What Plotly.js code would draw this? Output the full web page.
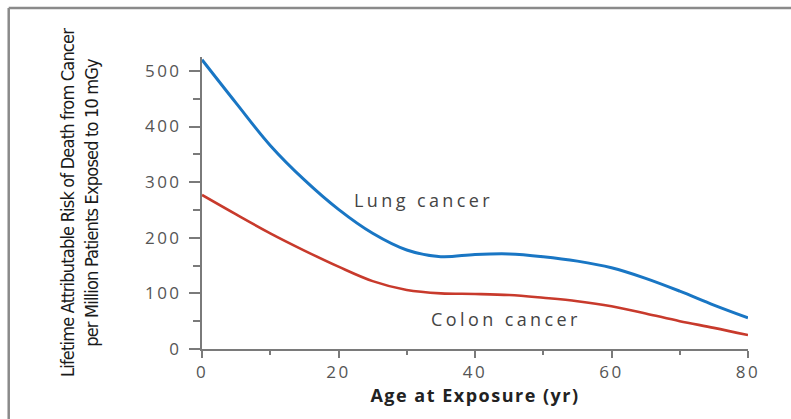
<!DOCTYPE html>
<html>
<head>
<meta charset="utf-8">
<script src="https://cdn.plot.ly/plotly-3.0.1.min.js"></script>
<style>
  html, body { margin: 0; padding: 0; background: #fff; }
  #chart { width: 791px; height: 419px; }
  .xtick text, .ytick text { letter-spacing: 2.5px; font-variant-numeric: oldstyle-nums; }
  .annotation-text { letter-spacing: 3.4px; }
  .xtitle { letter-spacing: 1.5px; }
  .ytitle { letter-spacing: -0.8px; }
</style>
</head>
<body>
<div id="chart"></div>
<script>
// Age at exposure (years)
const ages = [0, 5, 10, 15, 20, 25, 30, 35, 40, 45, 50, 55, 60, 65, 70, 75, 80];
// Lifetime attributable risk of death per million patients exposed to 10 mGy
const lungCancer  = [520, 442, 366, 304, 251, 208, 178, 166, 170, 171, 166, 158, 146, 127, 104, 79, 56];
const colonCancer = [277, 242, 208, 177, 148, 122, 106, 100, 99, 97, 92, 86, 77, 64, 50, 38, 25];

const seriesNames = ["Lung cancer", "Colon cancer"];
const labelPos = { lung: [32.5, 268], colon: [44.5, 54] };

const xTicks = [0, 20, 40, 60, 80];
const yTicks = [0, 100, 200, 300, 400, 500];

const axisGray = "#7a7a7a";
const tickFont = { family: "Open Sans, DejaVu Sans, sans-serif", size: 17, color: "#555" };

const traces = [
  { x: ages, y: lungCancer, name: seriesNames[0], type: "scatter", mode: "lines",
    line: { color: "#1976c4", width: 3, shape: "spline", smoothing: 1 }, cliponaxis: false },
  { x: ages, y: colonCancer, name: seriesNames[1], type: "scatter", mode: "lines",
    line: { color: "#c83a2c", width: 2.6, shape: "spline", smoothing: 1 }, cliponaxis: false }
];

const layout = {
  width: 791, height: 419,
  margin: { l: 202, r: 43, t: 57, b: 70 },
  paper_bgcolor: "#ffffff", plot_bgcolor: "#ffffff",
  showlegend: false,
  font: { family: "Open Sans, sans-serif", color: "#444" },
  xaxis: {
    range: [0, 80], showgrid: false, zeroline: false,
    showline: true, linecolor: axisGray, linewidth: 2,
    ticks: "outside", ticklen: 7, tickwidth: 2, tickcolor: axisGray,
    tickvals: xTicks, ticktext: xTicks.map(String),
    tickfont: tickFont,
    minor: { dtick: 10, ticks: "outside", ticklen: 4, tickwidth: 2, tickcolor: axisGray, showgrid: false },
    title: { text: "Age at Exposure (yr)", font: { family: "Open Sans, sans-serif", size: 18, color: "#222", weight: 700 }, standoff: 4 }
  },
  yaxis: {
    range: [0, 525], showgrid: false, zeroline: false,
    showline: true, linecolor: axisGray, linewidth: 2,
    ticks: "outside", ticklen: 11, tickwidth: 2, tickcolor: axisGray,
    tickvals: yTicks, ticktext: yTicks.map(String),
    tickfont: tickFont, ticklabelstandoff: 4,
    minor: { dtick: 50, ticks: "outside", ticklen: 7, tickwidth: 2, tickcolor: axisGray, showgrid: false },
    title: { text: "Lifetime Attributable Risk of Death from Cancer<br>per Million Patients Exposed to 10 mGy",
             font: { family: "DejaVu Sans Condensed, sans-serif", size: 18, color: "#1a1a1a" }, standoff: 42 }
  },
  annotations: [
    { x: labelPos.lung[0], y: labelPos.lung[1], xref: "x", yref: "y", text: seriesNames[0], showarrow: false,
      font: { family: "Open Sans, sans-serif", size: 18, color: "#444" } },
    { x: labelPos.colon[0], y: labelPos.colon[1], xref: "x", yref: "y", text: seriesNames[1], showarrow: false,
      font: { family: "Open Sans, sans-serif", size: 18, color: "#444" } }
  ],
  shapes: [
    { type: "line", xref: "paper", yref: "paper", x0: -0.354, x1: 1.08, y0: 1.168, y1: 1.168,
      line: { color: "#8a8a8a", width: 2.5 } },
    { type: "line", xref: "paper", yref: "paper", x0: -0.354, x1: -0.354, y0: 1.168, y1: -0.25,
      line: { color: "#8a8a8a", width: 2.5 } }
  ]
};

Plotly.newPlot("chart", traces, layout, { displayModeBar: false, staticPlot: true });
</script>
</body>
</html>
